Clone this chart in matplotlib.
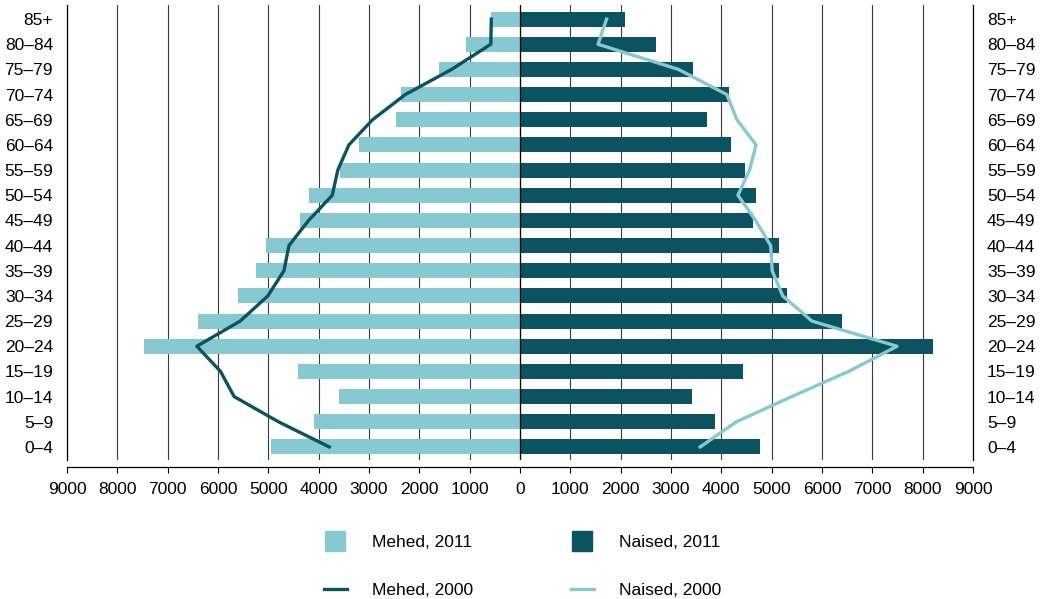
import matplotlib
matplotlib.use("Agg")
import matplotlib.pyplot as plt
from matplotlib.lines import Line2D
import numpy as np

plt.rcParams['font.family'] = ['Liberation Sans', 'DejaVu Sans']

age_groups = ["0–4", "5–9", "10–14", "15–19", "20–24", "25–29", "30–34", "35–39",
              "40–44", "45–49", "50–54", "55–59", "60–64", "65–69", "70–74", "75–79",
              "80–84", "85+"]

men_2011 = [4940, 4100, 3600, 4420, 7480, 6390, 5600, 5240, 5050, 4380, 4200,
            3570, 3190, 2470, 2360, 1600, 1080, 570]
women_2011 = [4760, 3880, 3420, 4440, 8200, 6390, 5310, 5150, 5150, 4620, 4680,
              4480, 4200, 3710, 4160, 3440, 2710, 2090]
men_2000 = [3790, 4800, 5680, 5950, 6420, 5560, 5010, 4690, 4590, 4200, 3730,
            3620, 3400, 2930, 2280, 1360, 580, 570]
women_2000 = [3580, 4300, 5400, 6530, 7490, 5800, 5220, 5010, 4980, 4680, 4330,
              4560, 4690, 4310, 4110, 3150, 1550, 1720]

x_ticks = list(range(-9000, 9001, 1000))

light = '#86C9D0'
dark = '#0B5360'

fig = plt.figure(figsize=(10.42, 5.99), dpi=100)
ax = fig.add_axes([67/1042, 1 - 460/599, (973 - 67)/1042, (460 - 5)/599])

y = np.arange(len(age_groups))
ax.barh(y, -np.array(men_2011), height=0.6, color=light, zorder=2, label='Mehed, 2011')
ax.barh(y, women_2011, height=0.6, color=dark, zorder=2, label='Naised, 2011')
ax.plot(-np.array(men_2000), y, color=dark, lw=2.4, zorder=4, label='Mehed, 2000')
ax.plot(women_2000, y, color=light, lw=2.4, zorder=4, label='Naised, 2000')
ax.axvline(0, color='black', lw=0.9, zorder=3)

ax.set_xlim(-9000, 9000)
ax.set_ylim(-0.52, 17.56)
ax.set_xticks(x_ticks)
ax.set_xticklabels([str(abs(v)) for v in x_ticks])
ax.set_yticks(y)
ax.set_yticklabels(age_groups)
ax.xaxis.grid(True, color='#3a3a3a', lw=0.8, zorder=0)
ax.set_axisbelow(True)

ax.tick_params(axis='y', left=False, right=False, labelleft=True, labelright=True,
               labelsize=12.5, pad=6.5)
ax.tick_params(axis='x', direction='out', length=4.5, width=0.8, labelsize=12.5,
               pad=6, color='black')
ax.spines['top'].set_visible(False)
ax.spines['bottom'].set_position(('outward', 5))
for s in ['left', 'right', 'bottom']:
    ax.spines[s].set_color('black')
    ax.spines[s].set_linewidth(0.9)

handles = [
    Line2D([], [], marker='s', markersize=14, color=light, linestyle='none'),
    Line2D([], [], color=dark, lw=2.4),
    Line2D([], [], marker='s', markersize=14, color=dark, linestyle='none'),
    Line2D([], [], color=light, lw=2.4),
]
labels = ['Mehed, 2011', 'Mehed, 2000', 'Naised, 2011', 'Naised, 2000']
fig.legend(handles, labels, ncol=2, loc='upper left',
           bbox_to_anchor=(324/1042, 1 - 535/599), frameon=False,
           fontsize=12.5, handlelength=1.3, handletextpad=1.45,
           columnspacing=5.65, labelspacing=1.9, borderpad=0, borderaxespad=0)

fig.savefig('out.png', dpi=100)
